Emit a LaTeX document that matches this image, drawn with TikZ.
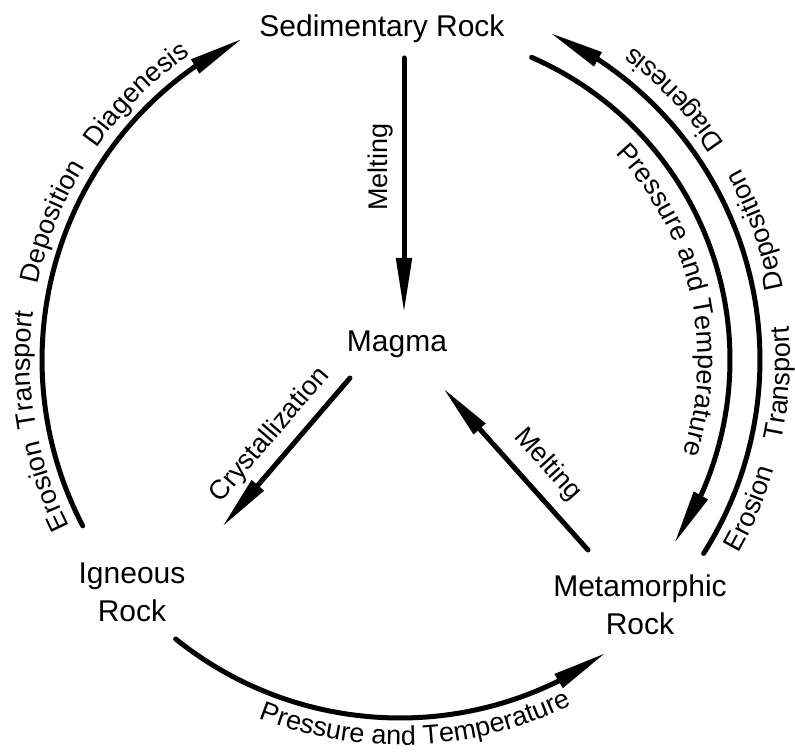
\documentclass[tikz,border=0pt]{standalone}
\usepackage{fontspec}
\setmainfont{Liberation Sans}
\usetikzlibrary{arrows.meta,bending,decorations.text}
\newcommand\nodefont{\fontsize{30}{38}\selectfont}
\newcommand\labfont{\fontsize{27}{30}\selectfont}
\newcommand\arclabel[4]{\path[decorate,decoration={text along path,text={|\labfont|#4},text align=center}] ([shift={(#1:#3)}]C) arc[start angle=#1,end angle=#2,radius=#3];}
\begin{document}
\begin{tikzpicture}[x=1pt,y=1pt,
  flow/.style={line width=5pt, line cap=round, -{Triangle[length=55pt,width=15pt]}},
  rock/.style={font=\nodefont, inner sep=0pt, align=center},
  lab/.style={font=\labfont, inner sep=0pt}]
\useasboundingbox (0,0) rectangle (795,753);
\coordinate (C) at (400,393);

% rock nodes
\node[rock, anchor=base] (sed) at (382,716) {Sedimentary Rock};
\node[rock, anchor=base] (magma) at (397,401) {Magma};
\node[rock] (ign) at (132,160.5) {Igneous\\Rock};
\node[rock] (met) at (640,148) {Metamorphic\\Rock};

% arc end points
\coordinate (igA) at ([shift={(207.6:358)}]C);
\coordinate (mtA) at ([shift={(-32.5:360)}]C);
\coordinate (sdA) at ([shift={(66.5:330)}]C);
\coordinate (igB) at ([shift={(231.2:358)}]C);

% curved connectors
\draw[flow] (igA) arc[start angle=207.6, end angle=116.1, radius=358];
\draw[flow] (mtA) arc[start angle=-32.5, end angle=65.4, radius=360];
\draw[flow] (sdA) arc[start angle=66.5, end angle=-33.8, radius=330];
\draw[flow] (igB) arc[start angle=231.2, end angle=305.1, radius=358];

% straight connectors
\coordinate (m1t) at (404,695); \coordinate (m1h) at (404,440);
\coordinate (c1t) at (350,375); \coordinate (c1h) at (222,226);
\coordinate (m2t) at (588,203); \coordinate (m2h) at (443,365);
\draw[flow] (m1t) -- (m1h);
\draw[flow] (c1t) -- (c1h);
\draw[flow] (m2t) -- (m2h);

% straight labels
\node[lab, rotate=90] (lmelt) at (381,586) {Melting};
\node[lab, rotate=49.3] (lcry) at (270,318) {Crystallization};
\node[lab, rotate=-48.2] (lmelt2) at (548,288) {Melting};

% left arc labels
\arclabel{219.6}{179.6}{370}{Erosion}
\arclabel{201.5}{161.5}{370}{Transport}
\arclabel{178.3}{138.3}{370}{Deposition}
\arclabel{154.8}{114.8}{370}{Diagenesis}

% right outer arc labels
\arclabel{-43}{-3}{390}{Erosion}
\arclabel{-23.5}{16.5}{390}{Transport}
\arclabel{0}{40}{390}{Deposition}
\arclabel{23.6}{63.6}{390}{Diagenesis}

% inner arc label
\arclabel{57.8}{-32.2}{298}{Pressure and Temperature}

% bottom arc label
\arclabel{227.5}{317.5}{385}{Pressure and Temperature}
\end{tikzpicture}
\end{document}
